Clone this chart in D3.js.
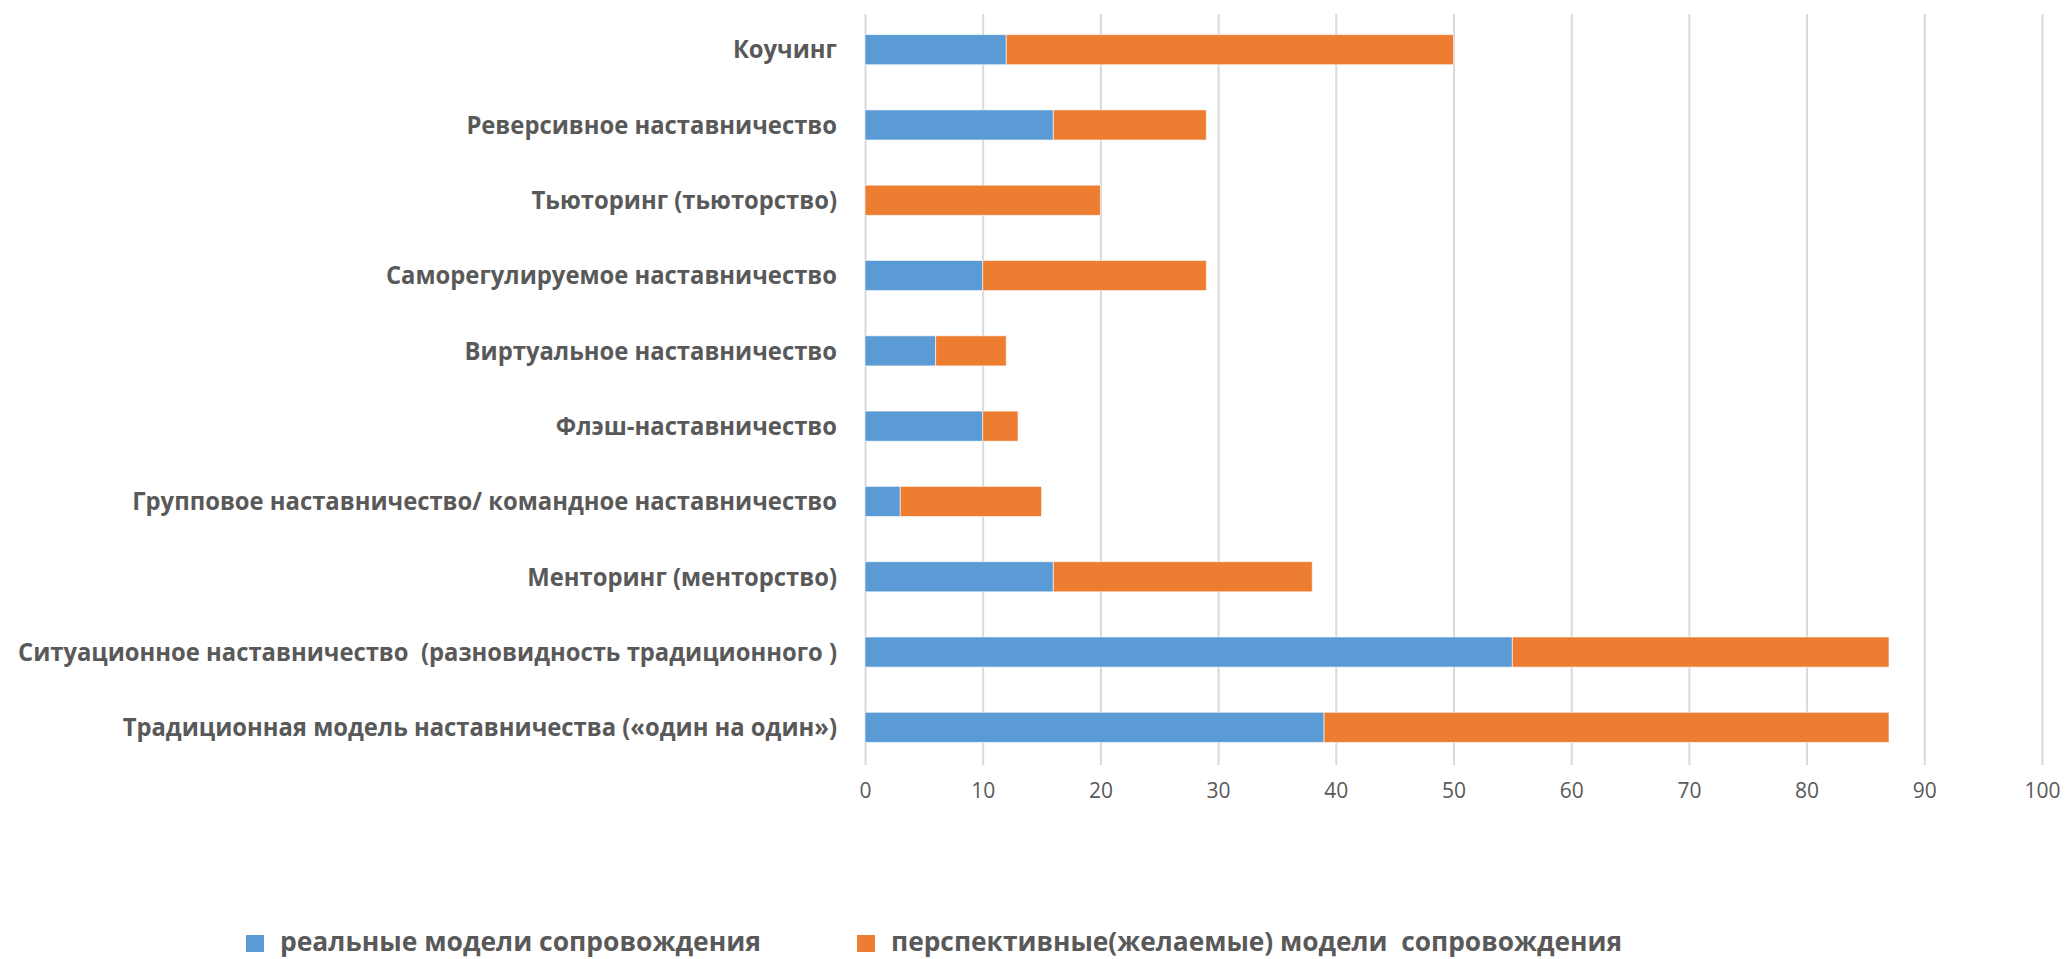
<!DOCTYPE html>
<html>
<head>
<meta charset="utf-8">
<script src="https://cdn.jsdelivr.net/npm/d3@7"></script>
<style>
  body { margin: 0; background: #fff; }
  svg { display: block; font-family: "Open Sans", sans-serif; }
  text { white-space: pre; }
</style>
</head>
<body>
<svg id="chart" width="2068" height="959"></svg>
<script>
// categories, top to bottom
const categories = [
    "Коучинг",
    "Реверсивное наставничество",
    "Тьюторинг (тьюторство)",
    "Саморегулируемое наставничество",
    "Виртуальное наставничество",
    "Флэш-наставничество",
    "Групповое наставничество/ командное наставничество",
    "Менторинг (менторство)",
    "Ситуационное наставничество  (разновидность традиционного )",
    "Традиционная модель наставничества («один на один»)"
];
const realValues = [12, 16, 0, 10, 6, 10, 3, 16, 55, 39];
const desiredValues = [38, 13, 20, 19, 6, 3, 12, 22, 32, 48];
const seriesNames = ["реальные модели сопровождения", "перспективные(желаемые) модели  сопровождения"];
const tickValues = [0, 10, 20, 30, 40, 50, 60, 70, 80, 90, 100];

class StackedBarChart {
    margin = { top: 12, right: 26, bottom: 194, left: 865 };

    constructor(svg, width = 2068, height = 959) {
        this.svg = d3.select(svg);
        this.width = width;
        this.height = height;
        this.colors = ["#5b9bd5", "#ed7d31"];
    }

    initialize() {
        this.x = d3.scaleLinear()
            .domain([0, 100])
            .range([this.margin.left, this.width - this.margin.right]);

        this.y = d3.scaleBand()
            .domain(categories)
            .range([this.margin.top, this.height - this.margin.bottom])
            .paddingInner(0.6)
            .paddingOuter(0.3);

        this.grid = this.svg.append("g");
        this.bars = this.svg.append("g");
        this.labels = this.svg.append("g");
        this.legend = this.svg.append("g");
    }

    fitText(sel, longestWidth) {
        const nodes = sel.nodes();
        const widths = nodes.map(n => n.getComputedTextLength());
        const k = longestWidth / d3.max(widths);
        nodes.forEach((n, i) => {
            n.setAttribute("textLength", widths[i] * k);
            n.setAttribute("lengthAdjust", "spacingAndGlyphs");
        });
    }

    update() {
        const [y0, y1] = this.y.range();

        // vertical gridlines + tick labels
        const xAxis = d3.axisBottom(this.x)
            .tickValues(tickValues)
            .tickSize(-(y1 - y0 - 2))
            .tickPadding(18);

        this.grid.attr("transform", `translate(0, ${y1})`)
            .call(xAxis)
            .call(g => g.select(".domain").remove())
            .call(g => g.selectAll(".tick line")
                .attr("stroke", "#d9d9d9")
                .attr("stroke-width", 2))
            .call(g => g.selectAll(".tick text")
                .attr("fill", "#595959")
                .attr("font-size", 21)
                .attr("font-family", "'Open Sans', sans-serif"));

        const rows = categories.map((c, i) => ({ key: c, real: realValues[i], desired: desiredValues[i] }));
        const stacked = d3.stack().keys(["real", "desired"])(rows);

        this.bars.selectAll("g")
            .data(stacked)
            .join("g")
            .attr("fill", (d, i) => this.colors[i])
            .selectAll("rect")
            .data(d => d.filter(s => s[1] - s[0] > 0))
            .join("rect")
            .attr("x", d => this.x(d[0]))
            .attr("width", d => this.x(d[1]) - this.x(d[0]))
            .attr("y", d => this.y(d.data.key))
            .attr("height", this.y.bandwidth())
            .attr("stroke", "#ffffff")
            .attr("stroke-opacity", 0.6)
            .attr("stroke-width", 1);

        // category labels
        const cat = this.labels.selectAll("text")
            .data(categories)
            .join("text")
            .attr("x", this.margin.left - 28)
            .attr("y", d => this.y(d) + this.y.bandwidth() / 2)
            .attr("dy", "0.35em")
            .attr("text-anchor", "end")
            .attr("font-size", 25)
            .attr("font-weight", 700)
            .attr("fill", "#595959")
            .text(d => d);
        this.fitText(cat, 819);

        // legend
        const legendX = [246, 857];
        const legendW = [481, 731];
        const item = this.legend.selectAll("g")
            .data(seriesNames)
            .join("g")
            .attr("transform", (d, i) => `translate(${legendX[i]}, 942)`);

        item.append("rect")
            .attr("x", 0)
            .attr("y", -7)
            .attr("width", 18)
            .attr("height", 17)
            .attr("fill", (d, i) => this.colors[i]);

        item.append("text")
            .attr("x", 34)
            .attr("y", 0)
            .attr("dy", "0.35em")
            .attr("font-size", 27)
            .attr("font-weight", 700)
            .attr("fill", "#595959")
            .text(d => d)
            .each(function (d, i) {
                this.setAttribute("textLength", legendW[i]);
                this.setAttribute("lengthAdjust", "spacingAndGlyphs");
            });
    }
}

const chart = new StackedBarChart(document.getElementById("chart"));
chart.initialize();
chart.update();
</script>
</body>
</html>
